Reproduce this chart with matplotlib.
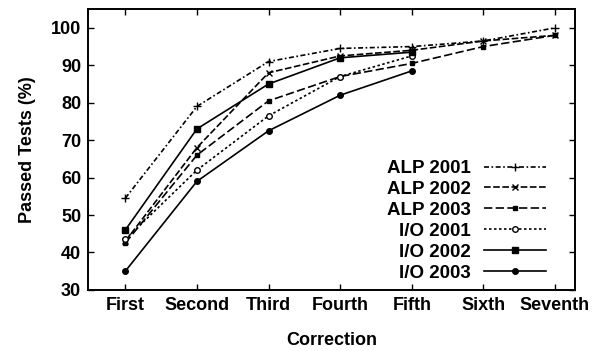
import matplotlib
matplotlib.use("Agg")
import matplotlib.pyplot as plt

categories = ["First", "Second", "Third", "Fourth", "Fifth", "Sixth", "Seventh"]
series_names = ["ALP 2001", "ALP 2002", "ALP 2003", "I/O 2001", "I/O 2002", "I/O 2003"]
alp_2001 = [54.5, 79.0, 91.0, 94.5, 95.0, 96.5, 100.0]
alp_2002 = [43.0, 68.0, 88.0, 92.5, 94.0, 96.5, 98.0]
alp_2003 = [42.5, 66.0, 80.5, 87.0, 90.5, 95.0, 98.0]
io_2001 = [43.5, 62.0, 76.5, 87.0, 92.5]
io_2002 = [46.0, 73.0, 85.0, 92.0, 93.5]
io_2003 = [35.0, 59.0, 72.5, 82.0, 88.5]
yticks = [30, 40, 50, 60, 70, 80, 90, 100]

plt.rcParams['font.family'] = ['Liberation Sans', 'DejaVu Sans']
plt.rcParams['font.weight'] = 'bold'
plt.rcParams['axes.labelweight'] = 'bold'

fig = plt.figure(figsize=(5.99, 3.51), dpi=100)
ax = fig.add_axes([0.147, 0.174, 0.813, 0.800])

data = [alp_2001, alp_2002, alp_2003, io_2001, io_2002, io_2003]
styles = [
    dict(ls=(0, (3, 1.5, 1, 1.5)), marker="+", ms=6, mfc="black"),
    dict(ls=(0, (4, 1.5)), marker="x", ms=4, mfc="black"),
    dict(ls=(0, (5, 2)), marker="s", ms=3.5, mfc="black"),
    dict(ls=(0, (1.5, 1.5)), marker="o", ms=4, mfc="white"),
    dict(ls="-", marker="s", ms=4, mfc="black"),
    dict(ls="-", marker="o", ms=4, mfc="black"),
]
for name, vals, st in zip(series_names, data, styles):
    xs = list(range(len(vals)))
    ax.plot(xs, vals, color="black", lw=1.2, label=name,
            linestyle=st["ls"], marker=st["marker"], markersize=st["ms"],
            markerfacecolor=st["mfc"], markeredgecolor="black", mew=1.0)

ax.set_xlim(-0.52, 6.28)
ax.set_ylim(30, 105)
ax.set_xticks(range(len(categories)))
ax.set_xticklabels(categories)
ax.set_yticks(yticks)
ax.tick_params(direction="in", length=4, width=1, top=True, right=True,
               labelsize=13, pad=5)
for sp in ax.spines.values():
    sp.set_linewidth(1.4)
ax.set_xlabel("Correction", fontsize=13, labelpad=13)
ax.set_ylabel("Passed Tests (%)", fontsize=13, labelpad=11)

leg = ax.legend(loc="lower right", bbox_to_anchor=(0.94, 0.03), frameon=False,
                markerfirst=False, handlelength=3.3, handletextpad=0.7,
                labelspacing=0.2, fontsize=13.5, borderaxespad=0.0, borderpad=0.0)
for t in leg.get_texts():
    t.set_ha("right")
    t.set_position((0, 0))

fig.savefig("out.png", dpi=100)
